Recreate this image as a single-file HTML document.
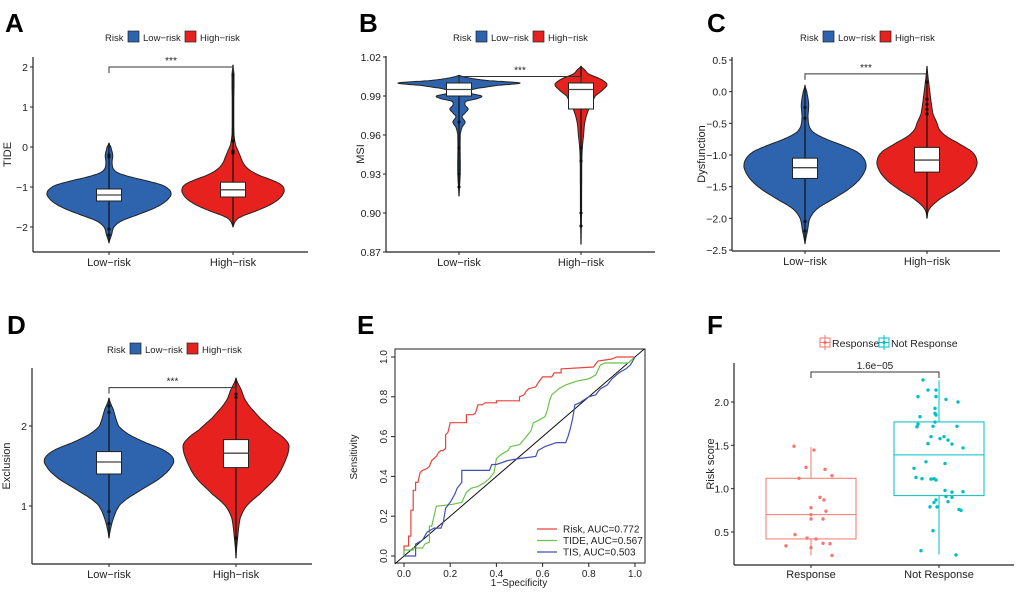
<!DOCTYPE html>
<html><head><meta charset="utf-8"><style>
body{margin:0;background:#fff}
svg{display:block;font-family:"Liberation Sans",Arial,sans-serif}
</style></head><body>
<svg id="fig" width="1020" height="593" viewBox="0 0 1020 593" xmlns="http://www.w3.org/2000/svg"></svg>
<script>
// ---- Panel A (TIDE) ----
const aLowVals=[-2.4,-2.2,-2.0,-1.85,-1.7,-1.55,-1.4,-1.25,-1.15,-1.05,-0.95,-0.85,-0.75,-0.65,-0.55,-0.4,-0.2,0,0.1];
const aLowDens=[0,0.04,0.08,0.2,0.45,0.7,0.88,0.98,1,0.96,0.85,0.62,0.35,0.15,0.07,0.05,0.06,0.03,0];
const aHighVals=[-2,-1.85,-1.75,-1.6,-1.45,-1.3,-1.15,-1.05,-0.95,-0.85,-0.7,-0.55,-0.4,-0.25,-0.1,0.05,0.3,1,1.8,2.05];
const aHighDens=[0,0.05,0.15,0.45,0.72,0.9,0.99,1,0.95,0.8,0.5,0.3,0.2,0.15,0.1,0.05,0.02,0.015,0.02,0];
const aLowBox=[-1.35,-1.2,-1.05], aHighBox=[-1.25,-1.07,-0.88];
const aLowOut=[-2.2,-2.05,-0.25,-0.2], aHighOut=[-0.15,-0.1,0.15,1.8];
const aTicks=[-2,-1,0,1,2];
// ---- Panel B (MSI) ----
const bLowVals=[0.913,0.93,0.96,0.966,0.97,0.974,0.977,0.98,0.983,0.986,0.988,0.99,0.992,0.995,0.998,1.0,1.002,1.004,1.006];
const bLowDens=[0,0.02,0.02,0.05,0.1,0.05,0.1,0.15,0.1,0.12,0.3,0.37,0.2,0.22,0.6,1,0.45,0.15,0];
const bHighVals=[0.876,0.9,0.94,0.95,0.96,0.97,0.98,0.99,0.995,0.999,1.003,1.007,1.01,1.013];
const bHighDens=[0,0.02,0.03,0.05,0.1,0.15,0.3,0.55,0.85,1,0.75,0.3,0.15,0];
const bLowBox=[0.99,0.995,1.0], bHighBox=[0.98,0.995,1.0];
const bLowOut=[0.97,0.95,0.93,0.92], bHighOut=[0.95,0.94,0.90,0.89];
const bTicks=[0.87,0.90,0.93,0.96,0.99,1.02];
// ---- Panel C (Dysfunction) ----
const cLowVals=[-2.4,-2.2,-2.0,-1.85,-1.7,-1.55,-1.4,-1.25,-1.15,-1.05,-0.95,-0.85,-0.75,-0.65,-0.55,-0.4,-0.2,0,0.1];
const cLowDens=[0,0.04,0.08,0.2,0.45,0.7,0.88,0.98,1,0.96,0.85,0.62,0.35,0.15,0.07,0.05,0.06,0.03,0];
const cHighVals=[-2,-1.85,-1.7,-1.55,-1.4,-1.25,-1.1,-0.95,-0.8,-0.7,-0.6,-0.5,-0.35,-0.15,0.1,0.4];
const cHighDens=[0,0.05,0.25,0.55,0.8,0.95,1,0.9,0.6,0.38,0.25,0.2,0.12,0.08,0.04,0];
const cLowBox=[-1.37,-1.2,-1.05], cHighBox=[-1.27,-1.08,-0.88];
const cLowOut=[-2.2,-2.05,-0.42,-0.25], cHighOut=[-0.35,-0.28,-0.2,-0.12,0.15];
const cTicks=[-2.5,-2.0,-1.5,-1.0,-0.5,0.0,0.5];
// ---- Panel D (Exclusion) ----
const dLowVals=[0.6,0.8,0.95,1.05,1.2,1.35,1.5,1.6,1.7,1.8,1.9,2.0,2.2,2.35];
const dLowDens=[0,0.05,0.12,0.22,0.5,0.8,0.98,1,0.85,0.55,0.3,0.15,0.07,0];
const dHighVals=[0.35,0.6,0.85,1.0,1.15,1.35,1.55,1.75,1.85,1.95,2.1,2.3,2.45,2.6];
const dHighDens=[0,0.03,0.08,0.2,0.45,0.75,0.92,1,0.9,0.7,0.45,0.2,0.1,0];
const dLowBox=[1.4,1.55,1.68], dHighBox=[1.48,1.66,1.83];
const dLowOut=[0.78,0.93,2.17,2.25], dHighOut=[0.6,2.36,2.4];
const dTicks=[1,2];
// ---- Panel E (ROC) ----
const riskFpr=[0,0,0.02,0.02,0.03,0.03,0.04,0.04,0.05,0.05,0.06,0.07,0.08,0.1,0.11,0.12,0.13,0.14,0.15,0.16,0.17,0.18,0.18,0.19,0.2,0.27,0.27,0.3,0.31,0.32,0.34,0.35,0.4,0.4,0.5,0.5,0.52,0.53,0.54,0.57,0.58,0.6,0.64,0.65,0.68,0.68,0.82,0.84,0.9,0.92,1];
const riskTpr=[0,0.05,0.05,0.1,0.1,0.23,0.23,0.33,0.33,0.37,0.37,0.42,0.43,0.44,0.45,0.48,0.49,0.5,0.52,0.53,0.53,0.54,0.61,0.62,0.67,0.67,0.71,0.71,0.72,0.76,0.76,0.77,0.77,0.78,0.78,0.8,0.81,0.83,0.84,0.85,0.87,0.9,0.9,0.92,0.92,0.94,0.95,0.98,0.99,1,1];
const tideFpr=[0,0,0.04,0.04,0.08,0.09,0.11,0.11,0.12,0.13,0.14,0.21,0.25,0.27,0.29,0.32,0.35,0.37,0.39,0.4,0.42,0.45,0.46,0.5,0.53,0.55,0.56,0.58,0.61,0.62,0.63,0.64,0.67,0.7,0.75,0.8,0.83,0.85,0.87,0.97,1];
const tideTpr=[0,0.03,0.03,0.04,0.04,0.06,0.07,0.15,0.15,0.2,0.25,0.26,0.27,0.32,0.34,0.35,0.37,0.39,0.42,0.49,0.51,0.53,0.55,0.56,0.6,0.63,0.67,0.68,0.7,0.73,0.78,0.81,0.84,0.86,0.88,0.89,0.91,0.96,0.97,0.97,1];
const tisFpr=[0,0.05,0.05,0.08,0.09,0.1,0.13,0.16,0.17,0.18,0.2,0.22,0.23,0.25,0.25,0.37,0.38,0.4,0.45,0.5,0.57,0.58,0.61,0.66,0.7,0.71,0.72,0.73,0.74,0.76,0.8,0.83,0.85,0.88,0.9,0.93,0.96,0.98,1];
const tisTpr=[0,0,0.06,0.08,0.1,0.12,0.14,0.14,0.17,0.24,0.27,0.31,0.34,0.37,0.43,0.43,0.46,0.46,0.48,0.49,0.5,0.53,0.55,0.57,0.57,0.6,0.64,0.69,0.76,0.77,0.8,0.81,0.84,0.86,0.89,0.92,0.94,0.96,1];
const rocTicks=[0,0.2,0.4,0.6,0.8,1.0];
const rocLegend=["Risk, AUC=0.772","TIDE, AUC=0.567","TIS, AUC=0.503"];
// ---- Panel F (Risk score) ----
const respVals=[1.49,1.446,1.246,1.223,1.15,1.12,0.9,0.87,0.78,0.74,0.70,0.65,0.65,0.47,0.43,0.42,0.37,0.365,0.34,0.32,0.23];
const respJitter=[-17,3,-5,14,21,-12,9,13,0,15,0,0,12,-16,-4,5,12,19,-25,0,21];
const notVals=[2.254,2.138,2.138,2.062,2.062,2.03,2.0,1.927,1.869,1.85,1.83,1.746,1.769,1.72,1.715,1.72,1.60,1.577,1.60,1.56,1.52,1.515,1.47,1.31,1.29,1.235,1.13,1.115,1.11,1.115,1.10,0.98,0.96,0.965,0.91,0.90,0.87,0.85,0.84,0.79,0.79,0.76,0.75,0.515,0.285,0.235];
const notJitter=[-16,-11,-3,-21,-3,7,19,-4,-4,-3,-19,-21,-4,-6,-22,18,-8,1,5,9,-11,13,24,-13,6,-25,-23,-17,-8,-5,-3,6,13,24,7,13,-3,9,-5,-9,-2,20,22,-6,-18,17];
const respBox=[0.23,0.42,0.7,1.12,1.48], notBox=[0.24,0.92,1.39,1.77,2.25];
const fTicks=[0.5,1.0,1.5,2.0];

const NS="http://www.w3.org/2000/svg";
const svg=document.getElementById('fig');
function el(tag,attrs,parent,text){const e=document.createElementNS(NS,tag);for(const k in attrs)e.setAttribute(k,attrs[k]);if(text!==undefined)e.textContent=text;(parent||svg).appendChild(e);return e;}
const BLUE="#2E63AE",RED="#E7221E";

function letter(x,y,t){const e=el('text',{x:x,y:y,'font-size':26,'font-weight':'bold',fill:'#000'},svg,t);

}

function riskLegend(x,y,id){const g=el('g',{});


el('text',{x:x,y:y+4,'font-size':9.5,fill:'#222'},g,'Risk');
el('rect',{x:x+23,y:y-6,width:11,height:11,fill:BLUE,stroke:'#222','stroke-width':0.7},g);
el('text',{x:x+38,y:y+4,'font-size':9.5,fill:'#222'},g,'Low\u2212risk');
el('rect',{x:x+80,y:y-6,width:11,height:11,fill:RED,stroke:'#222','stroke-width':0.7},g);
el('text',{x:x+95,y:y+4,'font-size':9.5,fill:'#222'},g,'High\u2212risk');}

function smooth(vals,dens){
 const out=[];
 for(let i=0;i<vals.length-1;i++){
  const p0=dens[Math.max(0,i-1)],p1=dens[i],p2=dens[i+1],p3=dens[Math.min(dens.length-1,i+2)];
  for(let k=0;k<10;k++){const t=k/10;
   const d=0.5*((2*p1)+(-p0+p2)*t+(2*p0-5*p1+4*p2-p3)*t*t+(-p0+3*p1-3*p2+p3)*t*t*t);
   out.push([vals[i]+(vals[i+1]-vals[i])*t,Math.max(0,d)]);}
 }
 out.push([vals[vals.length-1],dens[dens.length-1]]);
 return out;
}

function violinPanel(o){
 const g=el('g',{});
 
 
 const ys=v=>o.y0+(v-o.v0)/(o.v1-o.v0)*(o.y1-o.y0);
 el('line',{x1:o.ax,y1:o.top,x2:o.ax,y2:o.bottom,stroke:'#222','stroke-width':1.2},g);
 el('line',{x1:o.ax,y1:o.bottom,x2:o.axEnd,y2:o.bottom,stroke:'#222','stroke-width':1.2},g);
 o.ticks.forEach(t=>{const y=ys(t);
  el('line',{x1:o.ax-3,y1:y,x2:o.ax,y2:y,stroke:'#222'},g);
  const tx=el('text',{x:o.ax-5,y:y+4,'font-size':10.5,'text-anchor':'end',fill:'#222'},g,(t<0?'\u2212'+Math.abs(t).toFixed(o.dec):t.toFixed(o.dec)));
  
  });
 const yt=el('text',{x:0,y:0,'font-size':11,'text-anchor':'middle',fill:'#222',transform:`translate(${o.ax-o.tOff},${(o.top+o.bottom)/2}) rotate(-90)`},g,o.title);
 
 
 [[o.lowX,'Low\u2212risk'],[o.highX,'High\u2212risk']].forEach(([x,t])=>{
  el('line',{x1:x,y1:o.bottom,x2:x,y2:o.bottom+3,stroke:'#222'},g);
  const tx=el('text',{x:x,y:o.bottom+14,'font-size':11,'text-anchor':'middle',fill:'#222'},g,t);
  
  });
 function violin(cx,vals,dens,hw,color,box,outs,name){
  const pts=smooth(vals,dens);
  let r=pts.map(p=>[cx+p[1]*hw,ys(p[0])]), l=pts.map(p=>[cx-p[1]*hw,ys(p[0])]).reverse();
  let d='M'+r.map(p=>p[0].toFixed(1)+','+p[1].toFixed(1)).join(' L')+' L'+l.map(p=>p[0].toFixed(1)+','+p[1].toFixed(1)).join(' L')+'Z';
  const p=el('path',{d:d,fill:color,stroke:'#222','stroke-width':1,'stroke-linejoin':'round'},g);
  
  
  el('line',{x1:cx,y1:ys(vals[0]),x2:cx,y2:ys(vals[vals.length-1]),stroke:'#111','stroke-width':1.2},g);
  outs.forEach(v=>el('circle',{cx:cx,cy:ys(v),r:1.6,fill:'#111'},g));
  const b=el('rect',{x:cx-o.bw/2,y:ys(box[2]),width:o.bw,height:Math.abs(ys(box[0])-ys(box[2])),fill:'#fff',stroke:'#222','stroke-width':1},g);
  
  
  el('line',{x1:cx-o.bw/2,y1:ys(box[1]),x2:cx+o.bw/2,y2:ys(box[1]),stroke:'#444','stroke-width':1.3},g);
 }
 violin(o.lowX,o.lowVals,o.lowDens,o.lowHW,BLUE,o.lowBox,o.lowOut,'low-risk');
 violin(o.highX,o.highVals,o.highDens,o.highHW,RED,o.highBox,o.highOut,'high-risk');
 const by=ys(o.brV);
 el('path',{d:`M${o.lowX},${by+6} L${o.lowX},${by} L${o.highX},${by} L${o.highX},${by+6}`,fill:'none',stroke:'#333','stroke-width':1},g);
 const s=el('text',{x:(o.lowX+o.highX)/2,y:by-3,'font-size':10,'text-anchor':'middle',fill:'#222'},g,'***');
 
 
}

letter(5,32,'A');riskLegend(105,37,'a');
violinPanel({id:'a',title:'TIDE',tOff:22,ax:33,axEnd:308,top:57,bottom:252,v0:2,y0:67,v1:-2,y1:227,ticks:aTicks,dec:0,lowX:109,highX:233,bw:25,
 lowVals:aLowVals,lowDens:aLowDens,lowHW:62,highVals:aHighVals,highDens:aHighDens,highHW:51,lowBox:aLowBox,highBox:aHighBox,lowOut:aLowOut,highOut:aHighOut,brV:2});
letter(359,32,'B');riskLegend(453,37,'b');
violinPanel({id:'b',title:'MSI',tOff:22,ax:386,axEnd:655,top:56,bottom:252,v0:1.02,y0:57,v1:0.87,y1:252,ticks:bTicks,dec:2,lowX:459,highX:581,bw:25,
 lowVals:bLowVals,lowDens:bLowDens,lowHW:61,highVals:bHighVals,highDens:bHighDens,highHW:26,lowBox:bLowBox,highBox:bHighBox,lowOut:bLowOut,highOut:bHighOut,brV:1.005});
letter(707,32,'C');riskLegend(800,37,'c');
violinPanel({id:'c',title:'Dysfunction',tOff:27,ax:732,axEnd:1000,top:57,bottom:251,v0:0.5,y0:60,v1:-2.5,y1:250,ticks:cTicks,dec:1,lowX:805,highX:927,bw:25,
 lowVals:cLowVals,lowDens:cLowDens,lowHW:61,highVals:cHighVals,highDens:cHighDens,highHW:50,lowBox:cLowBox,highBox:cHighBox,lowOut:cLowOut,highOut:cHighOut,brV:0.28});
letter(7,334,'D');riskLegend(107,349,'d');
violinPanel({id:'d',title:'Exclusion',tOff:22,ax:32,axEnd:312,top:368,bottom:564,v0:2,y0:426,v1:1,y1:506,ticks:dTicks,dec:0,lowX:109,highX:236,bw:25,
 lowVals:dLowVals,lowDens:dLowDens,lowHW:64,highVals:dHighVals,highDens:dHighDens,highHW:53,lowBox:dLowBox,highBox:dHighBox,lowOut:dLowOut,highOut:dHighOut,brV:2.48});

// ---- E ROC ----
letter(357,334,'E');
(function(){
 const g=el('g',{});
 
 
 const xs=v=>404+v*231, ys=v=>556-v*199;
 el('rect',{x:395,y:349,width:250,height:214,fill:'none',stroke:'#222','stroke-width':1},g);
 rocTicks.forEach(t=>{
  el('line',{x1:xs(t),y1:563,x2:xs(t),y2:567,stroke:'#222'},g);
  el('text',{x:xs(t),y:577,'font-size':10,'text-anchor':'middle',fill:'#222'},g,t.toFixed(1));
  el('line',{x1:391,y1:ys(t),x2:395,y2:ys(t),stroke:'#222'},g);
  el('text',{x:0,y:0,'font-size':10,'text-anchor':'middle',fill:'#222',transform:`translate(387,${ys(t)}) rotate(-90)`},g,t.toFixed(1));
 });
 const xt=el('text',{x:519,y:586,'font-size':10,'text-anchor':'middle',fill:'#222'},g,'1\u2212Specificity');
 
 
 const yt=el('text',{x:0,y:0,'font-size':10,'text-anchor':'middle',fill:'#222',transform:'translate(357,457) rotate(-90)'},g,'Sensitivity');
 
 
 el('line',{x1:xs(-0.04),y1:ys(-0.04),x2:xs(1.04),y2:ys(1.04),stroke:'#111','stroke-width':1},g);
 const series=[[riskFpr,riskTpr,'#E8433A','risk'],[tideFpr,tideTpr,'#6CC24A','tide'],[tisFpr,tisTpr,'#4150B0','tis']];
 series.forEach(([fx,fy,c,n],i)=>{
  const p=el('polyline',{points:fx.map((v,j)=>xs(v).toFixed(1)+','+ys(fy[j]).toFixed(1)).join(' '),fill:'none',stroke:c,'stroke-width':1.2},g);
  
  
  const ly=529+i*11.5;
  el('line',{x1:537,y1:ly,x2:557,y2:ly,stroke:c,'stroke-width':1.2},g);
  const t=el('text',{x:563,y:ly+3.5,'font-size':10,fill:'#222'},g,rocLegend[i]);
  
  
 });
})();

// ---- F box plot ----
letter(707,334,'F');
(function(){
 const g=el('g',{});
 
 
 const ys=v=>402+(2-v)*86.67;
 const C1="#F8766D",C2="#00BFC4";
 const lg=el('g',{},g);
 
 
 [[820,C1,'Response'],[879,C2,'Not Response']].forEach(([x,c,t])=>{
  el('rect',{x:x,y:338,width:10,height:9,fill:'none',stroke:c},lg);
  el('line',{x1:x+5,y1:335,x2:x+5,y2:350,stroke:c},lg);
  el('line',{x1:x,y1:342.5,x2:x+10,y2:342.5,stroke:c},lg);
  el('circle',{cx:x+5,cy:342.5,r:1.6,fill:c},lg);
  el('text',{x:x+12,y:347,'font-size':10.5,fill:'#222'},lg,t);
 });
 el('line',{x1:734,y1:363,x2:734,y2:565,stroke:'#222','stroke-width':1.2},g);
 el('line',{x1:734,y1:565,x2:1014,y2:565,stroke:'#222','stroke-width':1.2},g);
 fTicks.forEach(t=>{el('line',{x1:731,y1:ys(t),x2:734,y2:ys(t),stroke:'#222'},g);
  el('text',{x:729,y:ys(t)+4,'font-size':10.5,'text-anchor':'end',fill:'#222'},g,t.toFixed(1));});
 const yt=el('text',{x:0,y:0,'font-size':11,'text-anchor':'middle',fill:'#222',transform:'translate(714,464) rotate(-90)'},g,'Risk score');
 
 
 function bp(cx,box,c,vals,jit,name){
  el('line',{x1:cx,y1:ys(box[0]),x2:cx,y2:ys(box[4]),stroke:c,'stroke-width':1},g);
  const r=el('rect',{x:cx-45,y:ys(box[3]),width:90,height:ys(box[1])-ys(box[3]),fill:'#fff',stroke:c,'stroke-width':1},g);
  
  
  el('line',{x1:cx-45,y1:ys(box[2]),x2:cx+45,y2:ys(box[2]),stroke:c,'stroke-width':1},g);
  vals.forEach((v,i)=>{const d=el('circle',{cx:cx+jit[i],cy:ys(v),r:1.7,fill:c},g);
   
   });
  el('line',{x1:cx,y1:565,x2:cx,y2:568,stroke:'#222'},g);
 }
 bp(811,respBox,C1,respVals,respJitter,'response');
 bp(939,notBox,C2,notVals,notJitter,'not-response');
 el('text',{x:811,y:578,'font-size':11,'text-anchor':'middle',fill:'#222'},g,'Response');
 el('text',{x:939,y:578,'font-size':11,'text-anchor':'middle',fill:'#222'},g,'Not Response');
 el('path',{d:'M811,378 L811,372 L939,372 L939,378',fill:'none',stroke:'#333','stroke-width':1},g);
 const p=el('text',{x:875,y:369,'font-size':10,'text-anchor':'middle',fill:'#222'},g,'1.6e\u221205');
 
 
})();
</script>
</body></html>
